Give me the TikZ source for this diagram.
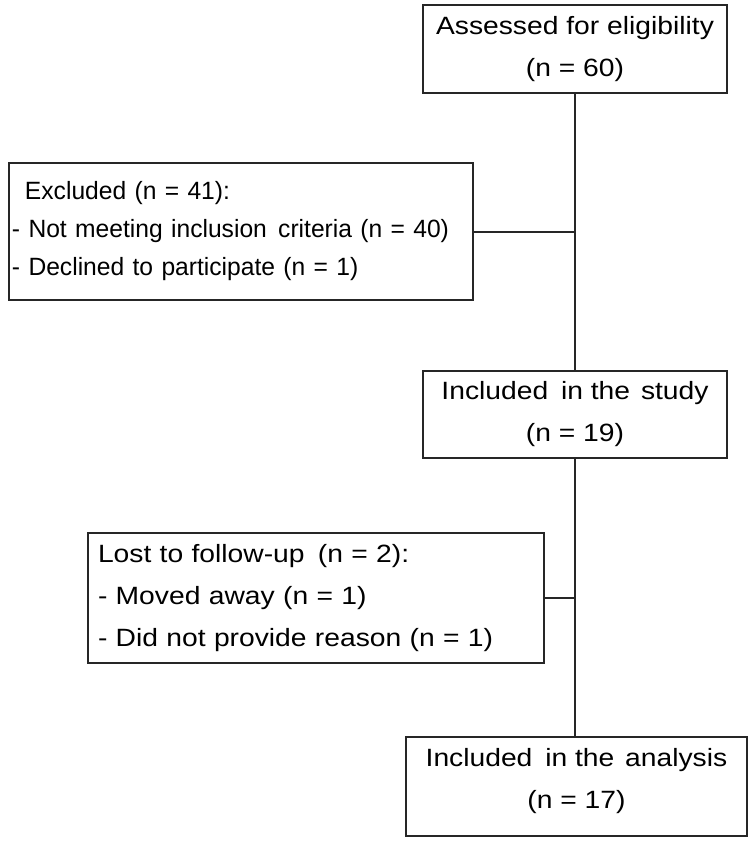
\documentclass[tikz,border=0pt]{standalone}
\usepackage{fontspec}
\setmainfont{Liberation Sans}
\newfontfamily\widefont[FakeStretch=1.13]{Liberation Sans}
\newfontfamily\narrowfont[FakeStretch=0.985]{Liberation Sans}
\begin{document}
\begin{tikzpicture}[x=1pt,y=-1pt,
  box/.style={draw=black!85, line width=2pt, inner sep=0pt, anchor=center},
  txt/.style={font=\fontsize{25}{38}\narrowfont},
  wtxt/.style={font=\fontsize{25}{42}\widefont},
  conn/.style={draw=black!85, line width=2pt}]
\useasboundingbox (0,0) rectangle (750,842);
\node[box, wtxt, minimum width=304pt, minimum height=88pt, align=center] (b1) at (575,49)
  {Assessed for eligibility\\(n = 60)};
\node[box, txt, minimum width=464pt, minimum height=137pt, align=left, inner xsep=3pt, text width=458pt] (b2) at (241,231.5)
  {\hspace*{13pt}Excluded (n = 41):\\- Not meeting inclusion\hspace{3pt} criteria (n = 40)\\- Declined to participate (n = 1)};
\node[box, wtxt, minimum width=304pt, minimum height=87pt, align=center] (b3) at (575,414.5)
  {Included\hspace{5pt} in the\hspace{3pt} study\\(n = 19)};
\node[box, wtxt, minimum width=456pt, minimum height=130pt, align=left, inner xsep=10pt, text width=436pt] (b4) at (316,598)
  {Lost to follow-up\hspace{5pt} (n = 2):\\- Moved away (n = 1)\\- Did not provide reason (n = 1)};
\node[box, minimum width=341pt, minimum height=99pt, inner sep=0pt] (b5) at (576.5,786.5) {};
\node[wtxt, align=center, inner sep=0pt] (t5) at (576.5,781.5)
  {\fontsize{25}{37}\widefont Included\hspace{5pt} in the\hspace{3pt} analysis\\(n = 17)};
\draw[conn] (b1.south -| 575,0) -- (b3.north -| 575,0);
\draw[conn] (b3.south -| 575,0) -- (b5.north -| 575,0);
\draw[conn] (b2.east) -- (b2.east -| b1.south);
\draw[conn] (b4.east) -- (b4.east -| b1.south);
\end{tikzpicture}
\end{document}
